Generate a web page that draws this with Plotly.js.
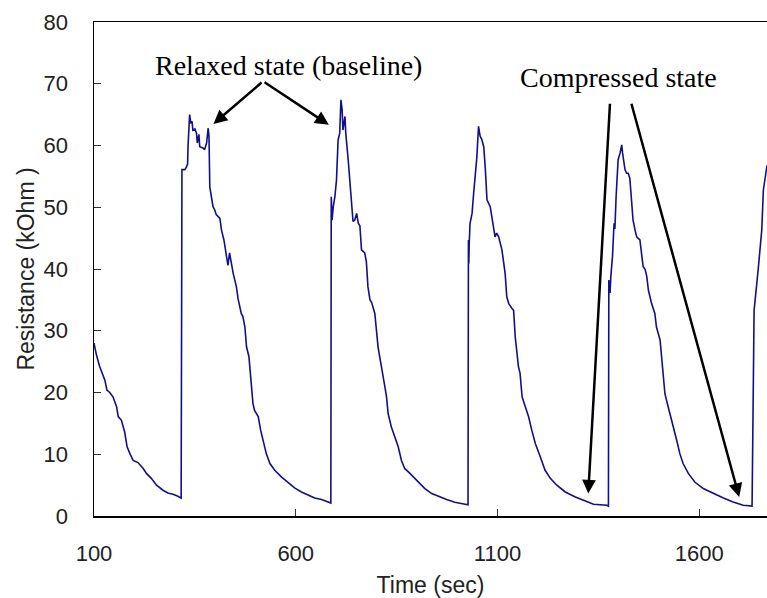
<!DOCTYPE html>
<html>
<head>
<meta charset="utf-8">
<script src="https://cdn.plot.ly/plotly-3.0.1.min.js"></script>
<style>html,body{margin:0;padding:0;background:#fff;}#chart{width:767px;height:598px;}</style>
</head>
<body>
<div id="chart"></div>
<script>
// Time (sec)
const timeSec = [
  100,106,114,127,132,139,147,156,160,168,176,182,189,197,209,222,230,242,255,271,283,296,308,316,
  318,325,329,332,333,337,340,343,345,350,354,356,360,362,370,374,379,383,385,387,391,395,399,403,412,416,422,428,432,436,441,445,453,457,465,469,474,478,484,489,494,498,507,513,519,527,536,548,565,581,598,614,631,647,664,684,687,
  688,690,693,697,701,705,709,712,715,717,722,724,730,734,738,742,746,751,755,759,763,767,771,775,779,784,788,796,800,804,808,813,821,825,829,837,846,854,862,870,883,895,908,920,937,957,974,994,1023,1027,
  1028,1029,1030,1032,1037,1041,1045,1049,1053,1057,1061,1066,1070,1074,1082,1086,1090,1094,1098,1103,1111,1115,1119,1123,1128,1136,1140,1144,1152,1156,1161,1169,1177,1185,1194,1206,1218,1231,1247,1268,1293,1318,1338,1371,1375,
  1376,1379,1381,1385,1389,1391,1394,1397,1399,1404,1408,1410,1413,1416,1420,1424,1428,1432,1436,1441,1445,1453,1457,1461,1466,1470,1474,1478,1482,1490,1494,1503,1507,1511,1515,1523,1532,1544,1552,1560,1573,1589,1610,1635,1660,1684,1709,1731,
  1736,1746,1755,1759,1765,1768
];
// Resistance (kOhm)
const resistance = [
  28.0,26.1,24.2,22.0,20.4,20.0,19.3,17.7,16.1,15.5,13.6,11.2,10.1,9.0,8.65,7.7,6.9,6.1,4.98,4.17,3.73,3.52,3.2,2.9,
  56.1,56.1,56.5,57.0,59.8,65.0,63.6,63.9,62.5,62.7,62.0,60.4,61.8,59.8,59.6,59.3,60.4,62.8,61.5,53.3,51.7,50.1,49.6,48.8,48.2,46.3,44.7,42.5,40.6,42.6,40.6,39.3,37.1,35.2,32.8,32.3,30.6,27.4,25.8,22.5,18.2,17.1,16.1,13.9,12.3,10.1,8.5,7.4,6.3,5.5,4.5,3.9,3.36,2.9,2.66,2.27,2.1,
  51.7,47.9,50.1,51.7,54.4,60.9,62.0,67.4,65.8,62.5,64.7,62.0,57.7,53.9,51.2,47.7,47.9,49.0,47.4,47.0,43.1,42.8,42.6,41.2,37.1,35.0,34.6,32.8,29.6,27.4,25.8,23.6,20.9,19.3,16.6,14.4,12.5,11.2,9.0,7.7,6.9,6.1,5.25,4.44,3.63,3.08,2.66,2.22,1.9,1.8,
  44.7,40.9,44.2,47.4,49.0,52.3,55.5,58.2,63.1,61.5,61.0,59.8,56.1,51.2,50.1,48.5,46.3,45.2,45.8,45.2,43.1,40.9,39.3,35.5,34.4,33.6,33.3,29.0,24.2,23.1,19.3,17.7,16.1,13.9,11.7,9.6,7.4,6.1,4.98,3.89,3.08,2.43,1.9,1.73,1.6,
  38.2,36.1,38.8,42.0,47.4,46.5,51.7,55.5,57.7,58.8,60.1,58.8,57.1,56.1,55.5,55.5,54.7,51.7,47.9,46.3,45.2,44.7,42.0,40.4,39.9,38.8,36.6,35.5,34.4,32.8,30.6,28.5,25.8,23.1,19.8,17.7,15.5,12.3,10.1,8.5,6.9,5.5,4.44,3.63,2.92,2.27,1.73,1.6,
  33.3,39.8,46.3,52.8,55.5,56.8
];
const xTickVals = [100, 600, 1100, 1600];
const yTickVals = [0, 10, 20, 30, 40, 50, 60, 70, 80];

const labelRelaxed = "Relaxed state (baseline)";
const labelCompressed = "Compressed state";
// arrow tails / heads (time, resistance)
const relaxedTail = [519, 70.4];
const relaxedHeads = [[396, 63.5], [682, 63.35]];
const compressedTails = [[1379, 67.0], [1431, 67.0]];
const compressedHeads = [[1325, 3.63], [1699, 3.08]];

const trace = {
  x: timeSec, y: resistance, type: 'scatter', mode: 'lines',
  line: {color: '#10108a', width: 1.6}, hoverinfo: 'skip'
};

const serif = {family: 'Liberation Serif, Times New Roman, serif', size: 28, color: '#000'};
const ann = [
  {x: 581, y: 73.0, xref: 'x', yref: 'y', text: labelRelaxed, showarrow: false, font: serif, xanchor: 'center', yanchor: 'middle'},
  {x: 1399, y: 71.0, xref: 'x', yref: 'y', text: labelCompressed, showarrow: false, font: serif, xanchor: 'center', yanchor: 'middle'}
];
function arrow(tail, head) {
  return {x: head[0], y: head[1], ax: tail[0], ay: tail[1], xref: 'x', yref: 'y', axref: 'x', ayref: 'y',
          text: '', showarrow: true, arrowhead: 2, arrowsize: 1.1, arrowwidth: 2.5, arrowcolor: '#000',
          standoff: 0, startstandoff: 0};
}
relaxedHeads.forEach(h => ann.push(arrow(relaxedTail, h)));
compressedHeads.forEach((h, i) => ann.push(arrow(compressedTails[i], h)));

const tickFont = {family: 'Liberation Sans, Arial, sans-serif', size: 22, color: '#222'};
const layout = {
  width: 767, height: 598,
  margin: {l: 94, r: 0, t: 22, b: 82},
  paper_bgcolor: '#fff', plot_bgcolor: '#fff',
  showlegend: false,
  xaxis: {
    range: [100, 1768], tickvals: xTickVals, ticktext: xTickVals.map(String),
    ticks: 'inside', ticklen: 7, tickwidth: 1, tickcolor: '#333',
    showline: true, linecolor: '#000', linewidth: 1.5, mirror: true,
    showgrid: false, zeroline: false, tickfont: tickFont, ticklabelstandoff: 17,
    title: {text: 'Time (sec)', font: {family: 'Liberation Sans, Arial, sans-serif', size: 23, color: '#222'}, standoff: 14},
    automargin: false
  },
  yaxis: {
    range: [0, 80], tickvals: yTickVals,
    ticks: 'inside', ticklen: 7, tickwidth: 1, tickcolor: '#333',
    showline: true, linecolor: '#000', linewidth: 1.5, mirror: false,
    showgrid: false, zeroline: false, tickfont: tickFont, ticklabelstandoff: 20,
    title: {text: 'Resistance (kOhm )', font: {family: 'Liberation Sans, Arial, sans-serif', size: 23, color: '#222'}, standoff: 2},
    automargin: false
  },
  annotations: ann
};
Plotly.newPlot('chart', [trace], layout, {staticPlot: true, displayModeBar: false});
</script>
</body>
</html>
